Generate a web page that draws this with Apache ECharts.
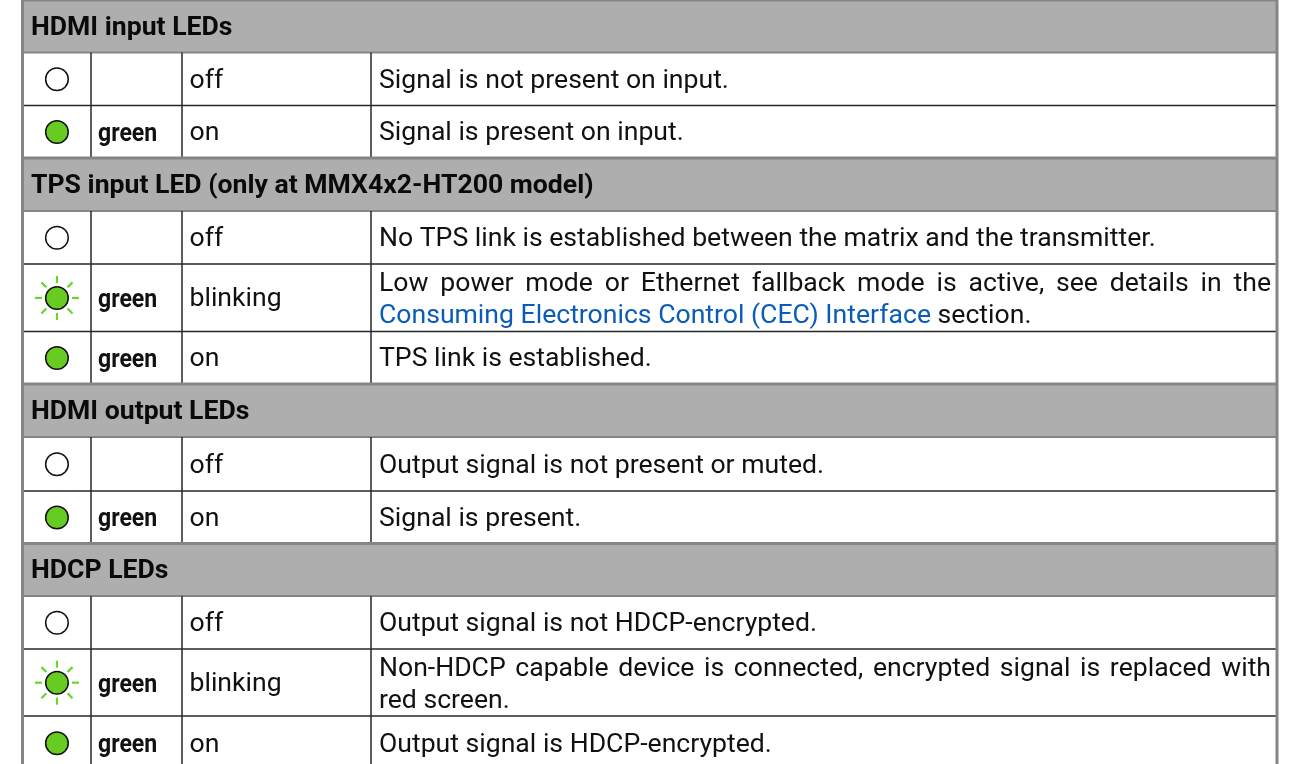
<!DOCTYPE html>
<html><head><meta charset="utf-8">
<style>html,body{margin:0;padding:0;background:#fff}#c{width:1295px;height:764px}</style>
<script src="https://cdn.jsdelivr.net/npm/echarts@6/dist/echarts.min.js"></script>
</head><body><div id="c"></div>
<script>
// Content
const ledStates = ['head','off','on','head','off','blink','on','head','off','on','head','off','blink','on'];
const colourLabels = ['','','green','','','green','green','','','green','','','green','green'];
const stateLabels = ['','off','on','','off','blinking','on','','off','on','','off','blinking','on'];
const descLine1 = [
 'HDMI input LEDs','Signal is not present on input.','Signal is present on input.',
 'TPS input LED (only at MMX4x2-HT200 model)','No TPS link is established between the matrix and the transmitter.',
 'Low power mode or Ethernet fallback mode is active, see details in the','TPS link is established.',
 'HDMI output LEDs','Output signal is not present or muted.','Signal is present.',
 'HDCP LEDs','Output signal is not HDCP-encrypted.',
 'Non-HDCP capable device is connected, encrypted signal is replaced with','Output signal is HDCP-encrypted.'];
const descLink2 = ['','','','','','Consuming Electronics Control (CEC) Interface','','','','','','','',''];
const descLine2 = ['','','','','',' section.','','','','','','','red screen.',''];
// Layout scale values
const rowEdges = [0,52.5,105.5,158,211,264,331.5,384,437,491,543.5,596,649,716,770];
const colEdges = [22.5,91,182,371,1277];
const raySegments = [0,45,90,135,180,225,270,315];

const C = {head:'#aeaeae', grey:'#858585', ink:'#262626', text:'#111', link:'#0a5cb8', green:'#66cc22', ray:'#66d62a'};
const bodyFont = '26.6px Roboto', headFont = 'bold 26.6px Roboto';
const ctx = document.createElement('canvas').getContext('2d');
function w(font, s){ctx.font=font;return ctx.measureText(s).width;}

function text(x,y,s,font,fill){
  return {type:'text',silent:true,style:{x,y,text:s,font,fill,verticalAlign:'middle',align:'left'}};
}
function line(x1,y1,x2,y2,color,width){
  return {type:'line',silent:true,shape:{x1,y1,x2,y2},style:{stroke:color,lineWidth:width,fill:null}};
}
function renderRow(params, api){
  const i = api.value(0);
  const top = api.coord([0,rowEdges[i]])[1], bot = api.coord([0,rowEdges[i+1]])[1];
  const xs = colEdges.map(v=>api.coord([v,0])[0]);
  const state = ledStates[i];
  const kids = [];
  const cy = (top+bot)/2;
  if(state==='head'){
    kids.push({type:'rect',silent:true,shape:{x:xs[0],y:top,width:xs[4]-xs[0],height:bot-top},style:{fill:C.head}});
    kids.push(text(xs[0]+8.5,cy+2,descLine1[i],headFont,'#0a0a0a'));
    kids.push(line(xs[0],top,xs[4],top,C.grey,3));
    kids.push(line(xs[0],bot,xs[4],bot,C.grey,2));
  } else {
    const lx = (xs[0]+xs[1])/2+0.2;
    const ledY = cy+0.2;
    if(state==='blink'){
      raySegments.forEach(a=>{
        const r=a*Math.PI/180;
        kids.push(line(lx+Math.cos(r)*15,ledY+Math.sin(r)*15,lx+Math.cos(r)*22,ledY+Math.sin(r)*22,C.ray,2.2));
      });
    }
    kids.push({type:'circle',silent:true,shape:{cx:lx,cy:ledY,r:11.3},
      style:{fill:state==='off'?'#fff':C.green,stroke:'#111',lineWidth:1.5}});
    [1,2,3].forEach(k=>kids.push(line(xs[k],top,xs[k],bot,C.ink,1.5)));
    if(colourLabels[i]){
      const t=text(0,0,colourLabels[i],'bold 26.5px Roboto','#111');
      t.x=xs[1]+7; t.y=cy+2.5; t.scaleX=0.87;
      kids.push(t);
    }
    kids.push(text(xs[2]+7.5,cy+2,stateLabels[i],bodyFont,C.text));
    const tx = xs[3]+8;
    const two = descLine2[i]!=='';
    if(two){
      const parts = descLine1[i].split(' ');
      const total = parts.reduce((a,p)=>a+w(bodyFont,p),0);
      const gap = (1271-tx-total)/(parts.length-1);
      let x=tx;
      parts.forEach(p=>{kids.push(text(x,top+20.5,p,bodyFont,C.text));x+=w(bodyFont,p)+gap;});
      if(descLink2[i]){
        kids.push(text(tx,top+52,descLink2[i],bodyFont,C.link));
        kids.push(text(tx+w(bodyFont,descLink2[i]),top+52,descLine2[i],bodyFont,C.text));
      } else kids.push(text(tx,top+52,descLine2[i],bodyFont,C.text));
    } else kids.push(text(tx,cy+2,descLine1[i],bodyFont,C.text));
    if(i+1<ledStates.length && ledStates[i+1]!=='head') kids.push(line(xs[0],bot,xs[4],bot,C.ink,1.5));
  }
  return {type:'group',children:kids};
}
function renderFrame(params, api){
  const a=api.coord([colEdges[0],0]), b=api.coord([colEdges[4],770]);
  return {type:'group',children:[line(a[0],a[1],a[0],b[1],C.grey,3),line(b[0],a[1],b[0],b[1],C.grey,3)]};
}
const chart = echarts.init(document.getElementById('c'));
chart.setOption({
  animation:false,
  grid:{left:0,right:0,top:0,bottom:0},
  xAxis:{type:'value',min:0,max:1295,show:false},
  yAxis:{type:'value',min:0,max:764,inverse:true,show:false},
  series:[
    {type:'custom',clip:false,renderItem:renderRow,data:ledStates.map((s,i)=>[i]),encode:{x:[],y:[]},silent:true,z:2},
    {type:'custom',clip:false,renderItem:renderFrame,data:[[0]],encode:{x:[],y:[]},silent:true,z:3}
  ]
});
</script></body></html>
